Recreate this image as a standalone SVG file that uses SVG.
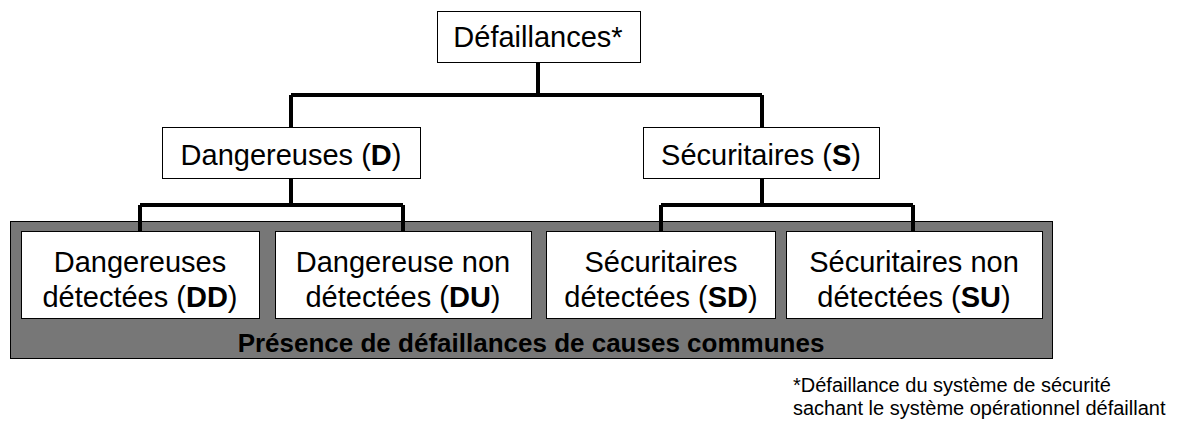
<svg xmlns="http://www.w3.org/2000/svg" width="1181" height="428" viewBox="0 0 1181 428">
<style>
.box{fill:#fff;stroke:#000;stroke-width:1}
.t{font-family:"Liberation Sans",Arial,sans-serif;font-size:29px;fill:#000;text-anchor:middle}
.b{font-weight:bold}
.c{fill:none;stroke:#000;stroke-width:4}
.fn{font-family:"Liberation Sans",Arial,sans-serif;font-size:20px;fill:#000}
</style>
<rect width="1181" height="428" fill="#fff"/>
<g id="ccf">
<rect x="10.5" y="221.5" width="1042" height="137" fill="#777" stroke="#000" stroke-width="1"/>
<text class="t b" x="531" y="352" style="font-size:26px">Présence de défaillances de causes communes</text>
</g>
<g id="connectors">
<path class="c" d="M538 62V95M291 95H762M291 95V127M762 95V127"/>
<path class="c" d="M291 178V205M140 205H403M140 205V231M403 205V231"/>
<path class="c" d="M762 178V205M661 205H913M661 205V231M913 205V231"/>
</g>
<g id="n_def">
<rect class="box" x="437.5" y="11.5" width="203" height="51"/>
<text class="t" x="538" y="47">Défaillances*</text>
</g>
<g id="n_D">
<rect class="box" x="162.5" y="127.5" width="258" height="51"/>
<text class="t" x="291" y="165">Dangereuses (<tspan class="b">D</tspan>)</text>
</g>
<g id="n_S">
<rect class="box" x="643.5" y="127.5" width="236" height="51"/>
<text class="t" x="761" y="165">Sécuritaires (<tspan class="b">S</tspan>)</text>
</g>
<g id="n_DD">
<rect class="box" x="21.5" y="231.5" width="238" height="87"/>
<text class="t" x="140" y="272">Dangereuses</text>
<text class="t" x="140" y="307">détectées (<tspan class="b">DD</tspan>)</text>
</g>
<g id="n_DU">
<rect class="box" x="275.5" y="231.5" width="256" height="87"/>
<text class="t" x="403" y="272">Dangereuse non</text>
<text class="t" x="403" y="307">détectées (<tspan class="b">DU</tspan>)</text>
</g>
<g id="n_SD">
<rect class="box" x="546.5" y="231.5" width="229" height="87"/>
<text class="t" x="661" y="272">Sécuritaires</text>
<text class="t" x="661" y="307">détectées (<tspan class="b">SD</tspan>)</text>
</g>
<g id="n_SU">
<rect class="box" x="786.5" y="231.5" width="256" height="87"/>
<text class="t" x="914" y="272">Sécuritaires non</text>
<text class="t" x="914" y="307">détectées (<tspan class="b">SU</tspan>)</text>
</g>
<g id="footnote">
<text class="fn" x="793" y="392">*Défaillance du système de sécurité</text>
<text class="fn" x="793" y="415">sachant le système opérationnel défaillant</text>
</g>
</svg>
